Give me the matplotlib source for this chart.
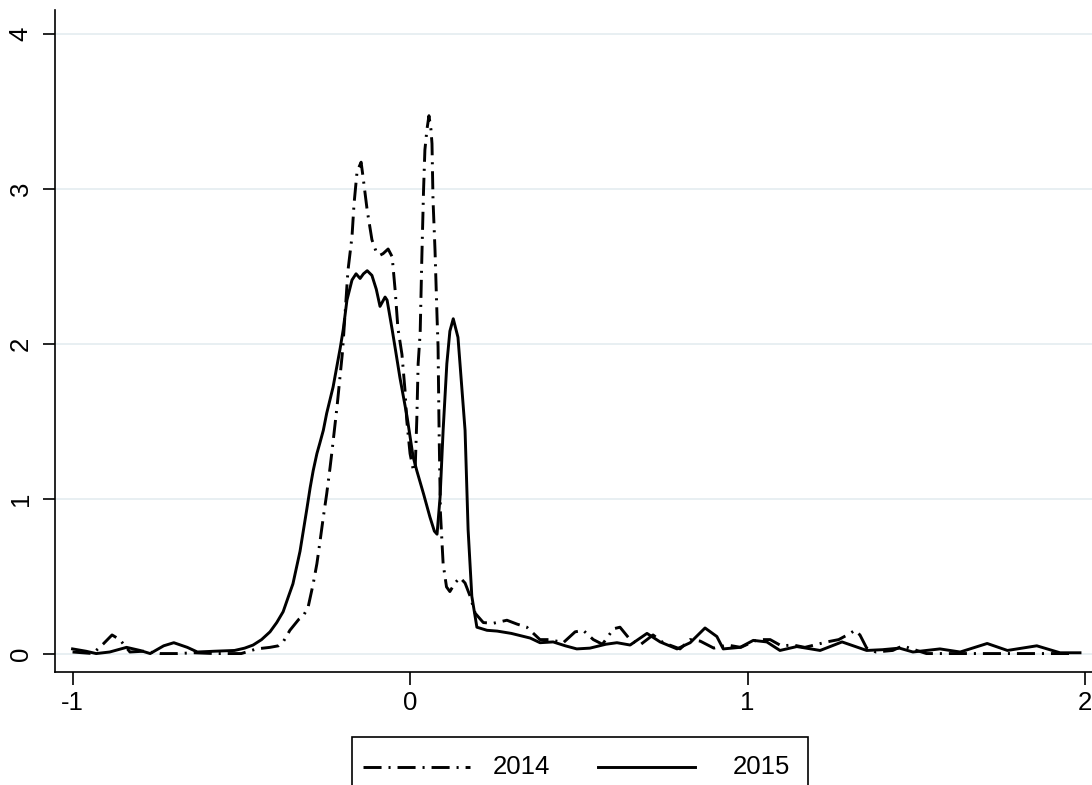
import matplotlib
matplotlib.use("Agg")
import matplotlib.pyplot as plt
from matplotlib.lines import Line2D
from matplotlib.patches import Rectangle

plt.rcParams['font.family'] = ['Liberation Sans', 'DejaVu Sans']
plt.rcParams['axes.unicode_minus'] = False
plt.rcParams['lines.scale_dashes'] = False

# ---- data ----
x_2014 = [-1.00, -0.97, -0.94, -0.91, -0.883, -0.86, -0.83, -0.79, -0.74, -0.69,
          -0.64, -0.58, -0.50, -0.455, -0.415, -0.39, -0.376, -0.356, -0.33, -0.317,
          -0.302, -0.287, -0.276, -0.267, -0.257, -0.247, -0.237, -0.231, -0.216, -0.20,
          -0.184, -0.172, -0.166, -0.157, -0.145, -0.139, -0.127, -0.113, -0.10, -0.089,
          -0.08, -0.065, -0.053, -0.044, -0.036, -0.024, -0.015, -0.01, 0.0, 0.01,
          0.015, 0.02, 0.024, 0.03, 0.035, 0.04, 0.044, 0.05, 0.056, 0.062,
          0.065, 0.068, 0.074, 0.08, 0.083, 0.086, 0.09, 0.098, 0.108, 0.118,
          0.133, 0.148, 0.163, 0.178, 0.193, 0.217, 0.246, 0.287, 0.317, 0.346,
          0.385, 0.415, 0.454, 0.489, 0.513, 0.543, 0.57, 0.603, 0.622, 0.652,
          0.681, 0.72, 0.75, 0.80, 0.83, 0.86, 0.90, 0.94, 0.98, 1.03,
          1.067, 1.10, 1.135, 1.17, 1.235, 1.27, 1.304, 1.318, 1.333, 1.353,
          1.38, 1.43, 1.46, 1.48, 1.53, 1.60, 1.75, 1.86, 1.96]
y_2014 = [0.01, 0.005, 0.0, 0.06, 0.12, 0.09, 0.01, 0.015, 0.0, 0.0,
          0.005, 0.0, 0.0, 0.03, 0.04, 0.05, 0.075, 0.15, 0.22, 0.24,
          0.30, 0.45, 0.58, 0.72, 0.88, 1.03, 1.20, 1.31, 1.60, 1.95,
          2.47, 2.69, 2.90, 3.11, 3.17, 3.07, 2.86, 2.67, 2.59, 2.57,
          2.58, 2.61, 2.56, 2.34, 2.10, 1.93, 1.70, 1.51, 1.29, 1.18,
          1.18, 1.51, 1.87, 2.07, 2.56, 2.99, 3.25, 3.38, 3.47, 3.38,
          3.29, 2.93, 2.60, 2.17, 1.98, 1.44, 0.91, 0.58, 0.43, 0.40,
          0.455, 0.49, 0.455, 0.37, 0.26, 0.20, 0.195, 0.215, 0.19, 0.17,
          0.09, 0.09, 0.07, 0.14, 0.15, 0.09, 0.06, 0.16, 0.17, 0.09,
          0.055, 0.12, 0.07, 0.03, 0.09, 0.08, 0.035, 0.055, 0.04, 0.09,
          0.09, 0.05, 0.055, 0.04, 0.075, 0.09, 0.13, 0.15, 0.12, 0.035,
          0.01, 0.02, 0.05, 0.035, 0.0, 0.0, 0.0, 0.0, 0.0]

x_2015 = [-1.00, -0.96, -0.93, -0.89, -0.84, -0.80, -0.77, -0.73, -0.70, -0.66,
          -0.63, -0.58, -0.52, -0.49, -0.465, -0.44, -0.415, -0.395, -0.376, -0.36,
          -0.347, -0.326, -0.306, -0.296, -0.287, -0.276, -0.267, -0.257, -0.247, -0.228,
          -0.207, -0.198, -0.187, -0.172, -0.16, -0.148, -0.138, -0.127, -0.113, -0.10,
          -0.089, -0.074, -0.068, -0.053, -0.044, -0.03, -0.009, 0.009, 0.02, 0.04,
          0.059, 0.072, 0.08, 0.089, 0.098, 0.109, 0.118, 0.128, 0.142, 0.148,
          0.163, 0.172, 0.183, 0.198, 0.228, 0.258, 0.30, 0.356, 0.385, 0.424,
          0.46, 0.494, 0.533, 0.58, 0.613, 0.652, 0.702, 0.741, 0.791, 0.83,
          0.874, 0.909, 0.928, 0.978, 1.017, 1.057, 1.096, 1.146, 1.215, 1.28,
          1.353, 1.40, 1.45, 1.49, 1.57, 1.63, 1.71, 1.77, 1.857, 1.926, 1.985]
y_2015 = [0.03, 0.015, 0.0, 0.01, 0.04, 0.02, 0.0, 0.05, 0.07, 0.04,
          0.01, 0.015, 0.02, 0.035, 0.055, 0.09, 0.14, 0.20, 0.27, 0.37,
          0.45, 0.66, 0.93, 1.07, 1.18, 1.29, 1.36, 1.44, 1.55, 1.72,
          1.97, 2.09, 2.28, 2.41, 2.45, 2.42, 2.45, 2.47, 2.44, 2.35,
          2.24, 2.30, 2.28, 2.09, 1.97, 1.78, 1.53, 1.27, 1.18, 1.03,
          0.88, 0.79, 0.77, 1.01, 1.44, 1.87, 2.08, 2.16, 2.04, 1.87,
          1.44, 0.80, 0.37, 0.17, 0.15, 0.145, 0.13, 0.10, 0.07, 0.075,
          0.05, 0.03, 0.035, 0.06, 0.07, 0.055, 0.13, 0.075, 0.03, 0.07,
          0.165, 0.11, 0.03, 0.04, 0.085, 0.075, 0.02, 0.045, 0.02, 0.075,
          0.02, 0.025, 0.035, 0.01, 0.03, 0.01, 0.065, 0.02, 0.05, 0.005, 0.005]

x_ticks = [-1, 0, 1, 2]
y_ticks = [0, 1, 2, 3, 4]
series_labels = ['2014', '2015']

# ---- figure ----
W, H = 1092, 785
fig = plt.figure(figsize=(W / 100, H / 100), dpi=100)
ax = fig.add_axes([55 / W, (H - 672) / H, 1050 / W, 662 / H])

dash_style = (0, (13, 5, 1.5, 5))
lw = 2.1
ax.plot(x_2014, y_2014, color='black', lw=lw, linestyle=dash_style,
        solid_joinstyle='round', dash_capstyle='butt')
ax.plot(x_2015, y_2015, color='black', lw=lw, linestyle='-',
        solid_joinstyle='round')

ax.set_xlim(-1.052, -1.052 + 1050 / 337.5)
ax.set_ylim(-0.119, -0.119 + 662 / 155)
ax.set_xticks(x_ticks)
ax.set_yticks(y_ticks)
ax.set_xticklabels([str(v) for v in x_ticks])
ax.set_yticklabels([str(v) for v in y_ticks], rotation=90, va='center')

for s in ['top', 'right']:
    ax.spines[s].set_visible(False)
for s in ['left', 'bottom']:
    ax.spines[s].set_linewidth(1.2)
ax.tick_params(axis='both', length=9, width=1.2, labelsize=18.5, color='black')
ax.tick_params(axis='x', pad=5)
ax.tick_params(axis='y', pad=7)
ax.yaxis.grid(True, color='#E6EEF1', lw=1.3)
ax.xaxis.grid(False)
ax.set_axisbelow(True)

# ---- legend box (bottom, partially cropped like the reference) ----
fig.patches.append(Rectangle((352 / W, -0.05), (808 - 352) / W, (H - 737) / H + 0.05,
                             transform=fig.transFigure, fill=False,
                             edgecolor='black', lw=1.2))
ly = (H - 767) / H
fig.lines.append(Line2D([363 / W, 470 / W], [ly, ly], transform=fig.transFigure,
                        color='black', lw=lw, linestyle=dash_style))
fig.lines.append(Line2D([598 / W, 695 / W], [ly, ly], transform=fig.transFigure,
                        color='black', lw=lw, linestyle='-'))
fig.text(493 / W, ly, series_labels[0], fontsize=18.5, va='center', ha='left')
fig.text(733 / W, ly, series_labels[1], fontsize=18.5, va='center', ha='left')

fig.savefig('out.png', dpi=100)
